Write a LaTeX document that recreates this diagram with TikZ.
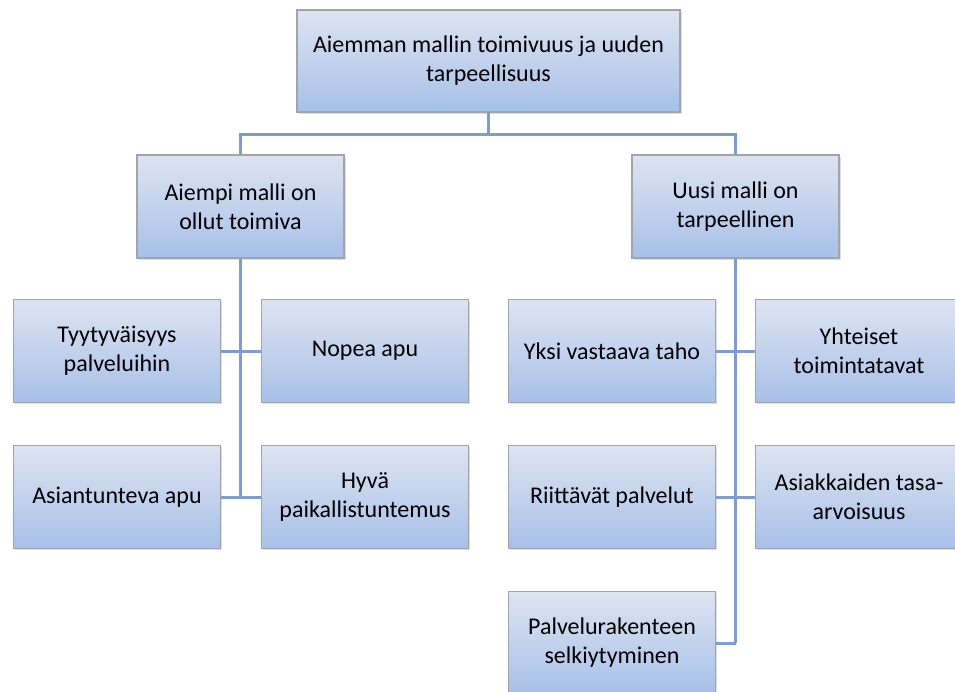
\documentclass[tikz,border=0pt]{standalone}
\usepackage{fontspec}
\setmainfont{Carlito}
\usetikzlibrary{shadows}
\definecolor{boxtop}{RGB}{221,228,241}
\definecolor{boxbottom}{RGB}{167,192,232}
\definecolor{boxedge}{RGB}{160,164,172}
\definecolor{linkblue}{RGB}{127,156,204}
\tikzstyle{block} = [rectangle, draw=boxedge, line width=1.2pt, top color=boxtop, bottom color=boxbottom, minimum width=207pt, minimum height=103pt, align=center, font=\fontsize{24}{29}\selectfont, drop shadow={shadow xshift=1.5pt, shadow yshift=-1.5pt, opacity=0.25}]
\tikzstyle{link} = [draw=linkblue, line width=3pt]

\begin{document}
\begin{tikzpicture}[x=1pt, y=-1pt]
        \useasboundingbox (0,0) rectangle (955,691);
        \clip (0,0) rectangle (955,691);
        % blocks
        \node [block, minimum width=383pt, minimum height=102pt] (root) at (488.5,61) {Aiemman mallin toimivuus ja uuden\\tarpeellisuus};
        \node [block] (aiempi) at (240.5,206.5) {Aiempi malli on\\ollut toimiva};
        \node [block] (uusi) at (735.5,206.5) {Uusi malli on\\tarpeellinen};
        \node [block] (tyyt) at (117,351) {Tyytyväisyys\\palveluihin};
        \node [block] (nopea) at (365,351) {Nopea apu};
        \node [block] (asiant) at (117,497) {Asiantunteva apu};
        \node [block] (paikal) at (365,497) {Hyvä\\paikallistuntemus};
        \node [block] (yksi) at (612,351) {Yksi vastaava taho};
        \node [block] (yhteiset) at (859,351) {Yhteiset\\toimintatavat};
        \node [block] (riitt) at (612,497) {Riittävät palvelut};
        \node [block] (tasa) at (859,497) {Asiakkaiden tasa-\\arvoisuus};
        \node [block] (selkey) at (612,643) {Palvelurakenteen\\selkiytyminen};
        \coordinate (bar) at (488.5,134);

        % connectors
        \draw [link] (root) -- (bar) -| (aiempi);
        \draw [link] (bar) -| (uusi);
        \draw [link] (aiempi) -- (aiempi |- asiant);
        \draw [link] (tyyt) -- (nopea);
        \draw [link] (asiant) -- (paikal);
        \draw [link] (uusi) -- (uusi |- selkey);
        \draw [link] (yksi) -- (yhteiset);
        \draw [link] (riitt) -- (tasa);
        \draw [link] (selkey) -- (uusi |- selkey);
\end{tikzpicture}
\end{document}
